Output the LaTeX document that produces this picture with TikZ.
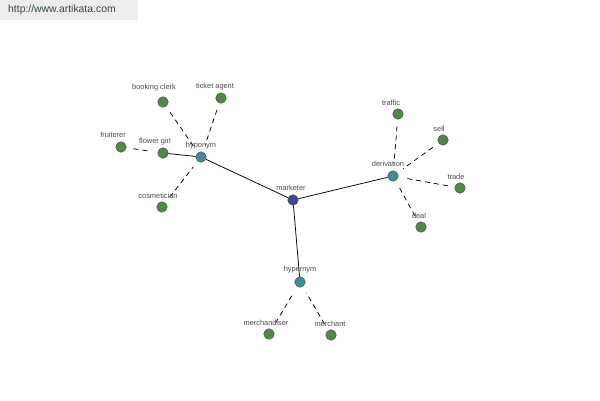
\documentclass[tikz,border=0pt]{standalone}
\usepackage{fontspec}
\setmainfont{Liberation Sans}
\begin{document}
\begin{tikzpicture}[x=1pt,y=-1pt,
  dot/.style={circle,draw=black!70,line width=0.5pt,minimum size=10.5pt,inner sep=0pt},
  leaf/.style={dot,fill=leafgreen},
  hub/.style={dot,fill=hubteal},
  root/.style={dot,fill=rootblue},
  lbl/.style={font=\fontsize{7.4}{8}\selectfont,text=black!72,inner sep=0pt},
  solidedge/.style={line width=0.75pt},
  dashededge/.style={line width=0.75pt,dash pattern=on 5pt off 4pt,shorten <=7pt,shorten >=7pt}]
\definecolor{leafgreen}{HTML}{4A8C40}
\definecolor{hubteal}{HTML}{3A9090}
\definecolor{rootblue}{HTML}{3C4A96}
\useasboundingbox (0,0) rectangle (600,400);
\fill[fill=black!7] (0,0) rectangle (138,20);
\node[font=\fontsize{10.4}{12}\selectfont,text=black!70!green!40!black!80,anchor=west,inner sep=0pt] (hdr) at (8,10) {http://www.artikata.com};
% nodes
\node[root] (marketer) at (293,200) {};
\node[hub] (hyponym) at (201,157) {};
\node[hub] (derivation) at (393,176) {};
\node[hub] (hypernym) at (300,282) {};
\node[leaf] (booking) at (163,102) {};
\node[leaf] (ticket) at (221,98) {};
\node[leaf] (fruiterer) at (121,147) {};
\node[leaf] (flower) at (163,153) {};
\node[leaf] (cosmetician) at (162,207) {};
\node[leaf] (traffic) at (398,114) {};
\node[leaf] (sell) at (443,140) {};
\node[leaf] (trade) at (460,188) {};
\node[leaf] (deal) at (421,227) {};
\node[leaf] (merchandiser) at (269,334) {};
\node[leaf] (merchant) at (331,335) {};
% edges
\draw[solidedge] (marketer) -- (hyponym);
\draw[solidedge] (marketer) -- (derivation);
\draw[solidedge] (marketer) -- (hypernym);
\draw[solidedge] (flower) -- (hyponym);
\draw[dashededge] (booking) -- (hyponym);
\draw[dashededge] (ticket) -- (hyponym);
\draw[dashededge] (fruiterer) -- (flower);
\draw[dashededge] (cosmetician) -- (hyponym);
\draw[dashededge] (traffic) -- (derivation);
\draw[dashededge] (sell) -- (derivation);
\draw[dashededge] (trade) -- (derivation);
\draw[dashededge] (deal) -- (derivation);
\draw[dashededge] (merchandiser) -- (hypernym);
\draw[dashededge] (merchant) -- (hypernym);
% labels
\node[lbl] (lmarketer) at (291,188) {marketer};
\node[lbl] (lhyponym) at (201,146) {hyponym};
\node[lbl] (lderivation) at (388,164) {derivation};
\node[lbl] (lhypernym) at (300,270) {hypernym};
\node[lbl] (lbooking) at (154,88) {booking clerk};
\node[lbl] (lticket) at (215,87) {ticket agent};
\node[lbl] (lfruiterer) at (113,135) {fruiterer};
\node[lbl] (lflower) at (155,142) {flower girl};
\node[lbl] (lcosmetician) at (158,196) {cosmetician};
\node[lbl] (ltraffic) at (391,103) {traffic};
\node[lbl] (lsell) at (439,129) {sell};
\node[lbl] (ltrade) at (456,177) {trade};
\node[lbl] (ldeal) at (419,216) {deal};
\node[lbl] (lmerchandiser) at (266,323) {merchandiser};
\node[lbl] (lmerchant) at (330,324) {merchant};
\end{tikzpicture}
\end{document}
